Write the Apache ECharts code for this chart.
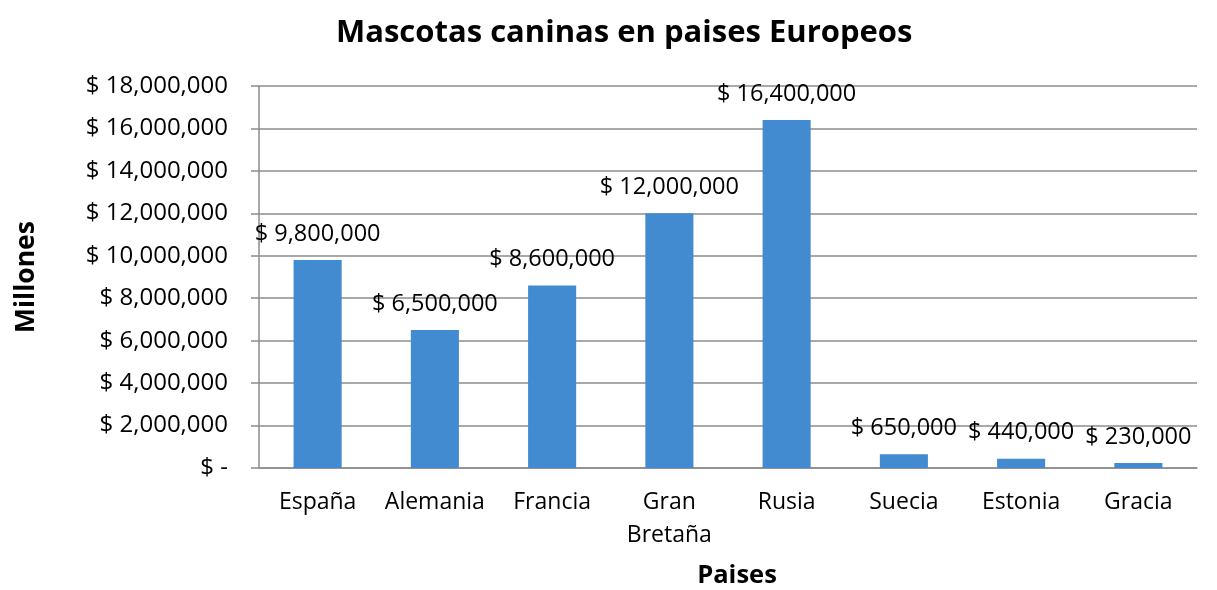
<!DOCTYPE html>
<html><head><meta charset="utf-8">
<script src="https://cdn.jsdelivr.net/npm/echarts@6/dist/echarts.min.js"></script>
<style>html,body{margin:0;padding:0;background:#fff;overflow:hidden}#c{width:1217px;height:590px}</style>
</head><body><div id="c"></div>
<script>
var categories = ['España','Alemania','Francia','Gran Bretaña','Rusia','Suecia','Estonia','Gracia'];
var values = [9800000, 6500000, 8600000, 12000000, 16400000, 650000, 440000, 230000];
var yMin = 0, yMax = 18000000, yInterval = 2000000;
var FONT = 'Open Sans';
function money(v){ return v === 0 ? '$ -' : '$ ' + v.toLocaleString('en-US'); }
var chart = echarts.init(document.getElementById('c'));
chart.setOption({
  animation:false,
  textStyle:{fontFamily:FONT},
  title:{text:'Mascotas caninas en paises Europeos', left:331, top:13,
    textStyle:{fontFamily:FONT, fontSize:31, fontWeight:'bold', color:'#000'}},
  grid:{left:259, right:20, top:86, bottom:122, containLabel:false, outerBoundsMode:'none'},
  xAxis:{type:'category', data:categories, name:'Paises', nameLocation:'middle', nameGap:95,
    nameTextStyle:{fontFamily:FONT, fontSize:25.5, fontWeight:'bold', color:'#000', padding:[0,0,0,18]},
    axisLine:{lineStyle:{color:'#8c8c8c', width:1.5}}, axisTick:{show:false},
    axisLabel:{interval:0, hideOverlap:false, fontFamily:FONT, fontSize:23, color:'#000', margin:18, lineHeight:33,
      formatter:function(v){return v.replace(' ','\n');}}},
  yAxis:{type:'value', min:yMin, max:yMax, interval:yInterval, name:'Millones', nameLocation:'middle', nameGap:219,
    nameRotate:90,
    nameTextStyle:{fontFamily:FONT, fontSize:26.5, fontWeight:'bold', color:'#000'},
    axisLine:{show:true, lineStyle:{color:'#8c8c8c', width:1.5}},
    axisTick:{show:true, length:8, lineStyle:{color:'#8c8c8c', width:1.5}},
    splitLine:{lineStyle:{color:'#8c8c8c', width:1.5}},
    axisLabel:{fontFamily:FONT, fontSize:24, color:'#000', margin:31, formatter:money}},
  series:[{type:'bar', data:values, barWidth:'41%', itemStyle:{color:'#428BD0'},
    label:{show:true, position:'top', distance:14, fontFamily:FONT, fontSize:23.5, color:'#000',
      formatter:function(p){return money(p.value);}}}]
});
</script></body></html>
